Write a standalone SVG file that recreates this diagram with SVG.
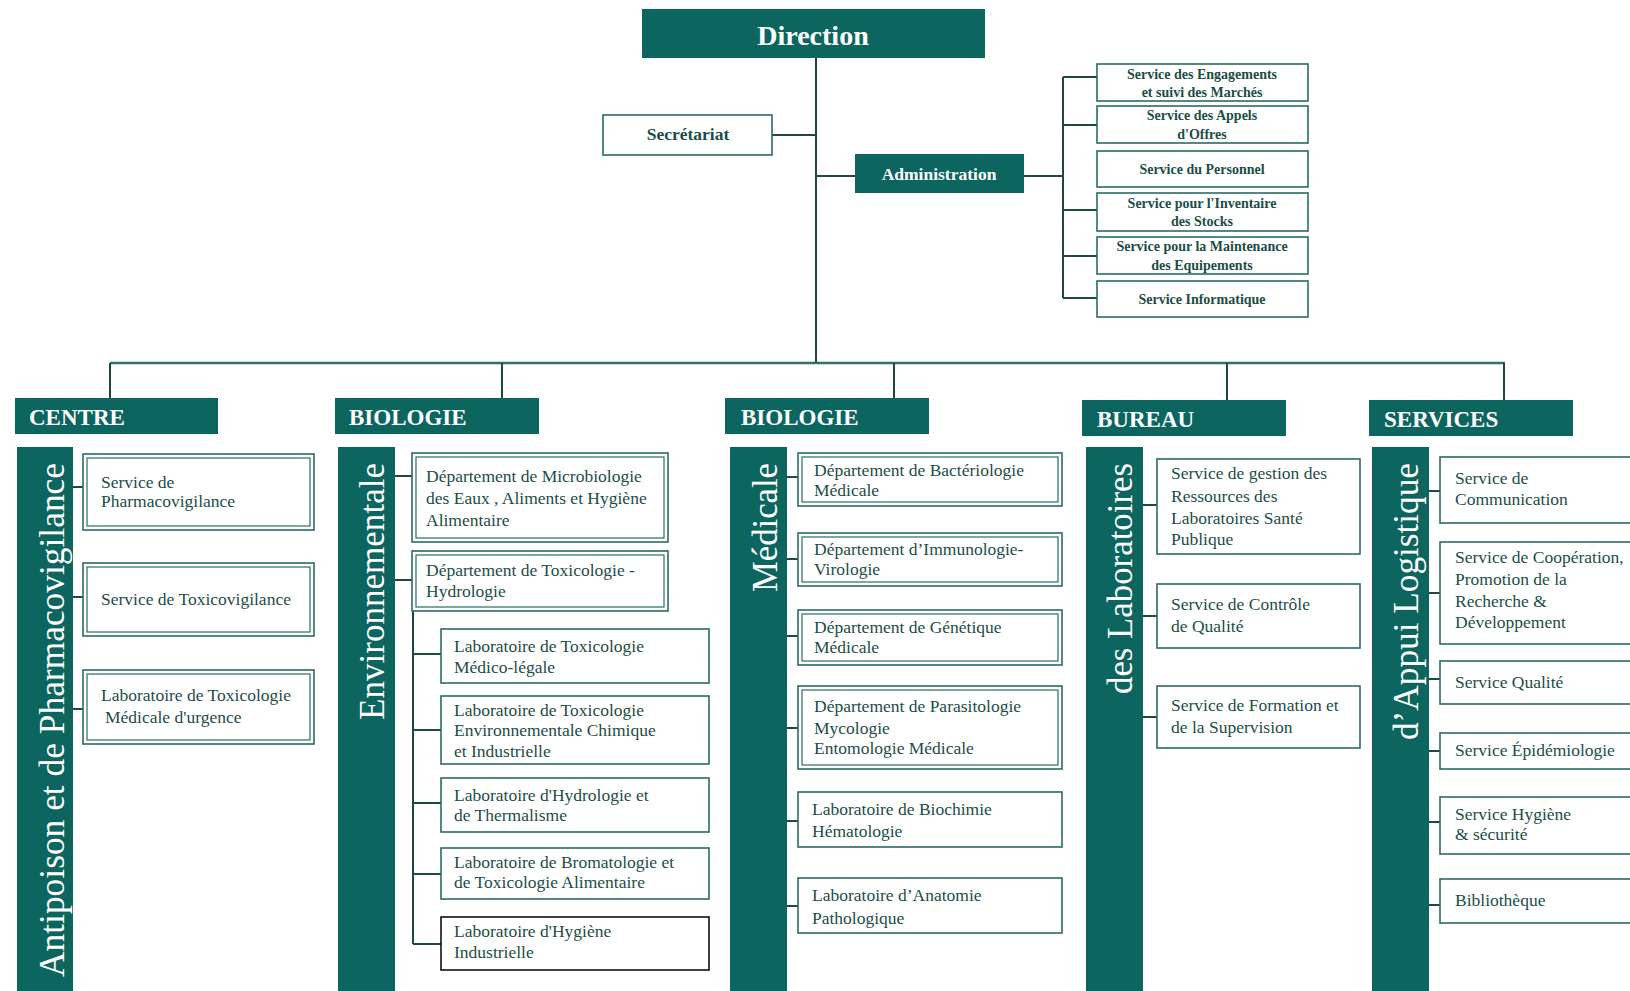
<svg xmlns="http://www.w3.org/2000/svg" width="1630" height="991" viewBox="0 0 1630 991">
<style>
.fill{fill:#0d655f}
.hdr{font-family:"Liberation Serif",serif;font-weight:bold;fill:#ffffff}
.bar{font-family:"Liberation Serif",serif;fill:#ffffff;font-size:35px;text-anchor:end}
.box{fill:#ffffff;stroke:#2c6b65;stroke-width:1.6}
.inner{fill:none;stroke:#2c6b65;stroke-width:1.2}
.blk{fill:#ffffff;stroke:#111;stroke-width:1.6}
.t{font-family:"Liberation Serif",serif;font-size:17.5px;fill:#1b4d48}
.ta{font-family:"Liberation Serif",serif;font-size:14px;font-weight:bold;fill:#1b4d48;text-anchor:middle}
.ln{stroke:#1f4744;stroke-width:2;fill:none}
.hl{stroke:#2e716b;stroke-width:2.5;fill:none}
</style>
<rect width="1630" height="991" fill="#ffffff"/>

<g id="connectors">
<path class="ln" d="M816 58 V363 M772 135 H816 M816 176 H855"/>
<path class="hl" d="M110 363 H1505"/>
<path class="ln" d="M110 363 V398 M502 363 V398 M894 363 V398 M1227 363 V400 M1504 363 V400"/>
<path class="ln" d="M1024 176 H1063 M1063 77 V298 M1063 77 H1097 M1063 125 H1097 M1063 210 H1097 M1063 256 H1097 M1063 298 H1097"/>
<path class="ln" d="M73 487 H83 M73 597 H83 M73 709 H83"/>
<path class="ln" d="M395 476 H412 M395 580 H412 M413 611 V944 M413 654 H441 M413 730 H441 M413 803 H441 M413 874 H441 M413 944 H441"/>
<path class="ln" d="M787 477 H798 M787 559 H798 M787 636 H798 M787 728 H798 M787 821 H798 M787 906 H798"/>
<path class="ln" d="M1143 505 H1157 M1143 616 H1157 M1143 717 H1157"/>
<path class="ln" d="M1429 491 H1440 M1429 593 H1440 M1429 679 H1440 M1429 751 H1440 M1429 822 H1440 M1429 905 H1440"/>
</g>

<g id="direction">
<rect class="fill" x="642" y="9" width="343" height="49"/>
<text class="hdr" x="813" y="45" font-size="28" text-anchor="middle">Direction</text>
</g>
<g id="secretariat">
<rect class="box" x="603" y="115" width="169" height="40"/>
<text class="t" x="688" y="140" font-size="18" font-weight="bold" text-anchor="middle">Secrétariat</text>
</g>
<g id="administration">
<rect class="fill" x="855" y="154" width="169" height="39"/>
<text class="hdr" x="939" y="180" font-size="17.5" text-anchor="middle">Administration</text>
</g>

<g id="adm1"><rect class="box" x="1097" y="64" width="211" height="37"/>
<text class="ta" x="1202" y="79">Service des Engagements</text><text class="ta" x="1202" y="97">et suivi des Marchés</text></g>
<g id="adm2"><rect class="box" x="1097" y="106" width="211" height="37"/>
<text class="ta" x="1202" y="120">Service des Appels</text><text class="ta" x="1202" y="139">d'Offres</text></g>
<g id="adm3"><rect class="box" x="1097" y="151" width="211" height="36"/>
<text class="ta" x="1202" y="174">Service du Personnel</text></g>
<g id="adm4"><rect class="box" x="1097" y="193" width="211" height="38"/>
<text class="ta" x="1202" y="208">Service pour l'Inventaire</text><text class="ta" x="1202" y="226">des Stocks</text></g>
<g id="adm5"><rect class="box" x="1097" y="237" width="211" height="37"/>
<text class="ta" x="1202" y="251">Service pour la Maintenance</text><text class="ta" x="1202" y="270">des Equipements</text></g>
<g id="adm6"><rect class="box" x="1097" y="281" width="211" height="36"/>
<text class="ta" x="1202" y="304">Service Informatique</text></g>

<!-- CENTRE -->
<g id="centre">
<rect class="fill" x="15" y="398" width="203" height="36"/>
<text class="hdr" x="29" y="425" font-size="23">CENTRE</text>
<rect class="fill" x="17" y="447" width="56" height="544"/>
<text class="bar" x="64" y="463" transform="rotate(-90 64 463)" textLength="514" lengthAdjust="spacingAndGlyphs">Antipoison et de Pharmacovigilance</text>
</g>
<g id="c1"><rect class="box" x="83" y="454" width="231" height="76"/><rect class="inner" x="87" y="458" width="223" height="68"/>
<text class="t" x="101" y="488">Service de</text><text class="t" x="101" y="507">Pharmacovigilance</text></g>
<g id="c2"><rect class="box" x="83" y="563" width="231" height="73"/><rect class="inner" x="87" y="567" width="223" height="65"/>
<text class="t" x="101" y="605">Service de Toxicovigilance</text></g>
<g id="c3"><rect class="box" x="83" y="670" width="231" height="74"/><rect class="inner" x="87" y="674" width="223" height="66"/>
<text class="t" x="101" y="701">Laboratoire de Toxicologie</text><text class="t" x="105" y="723">Médicale d'urgence</text></g>

<!-- BIOLOGIE Environnementale -->
<g id="bioenv">
<rect class="fill" x="335" y="398" width="204" height="36"/>
<text class="hdr" x="349" y="425" font-size="23">BIOLOGIE</text>
<rect class="fill" x="338" y="447" width="57" height="544"/>
<text class="bar" x="384" y="463" transform="rotate(-90 384 463)" textLength="257" lengthAdjust="spacingAndGlyphs">Environnementale</text>
</g>
<g id="e1"><rect class="box" x="412" y="453" width="256" height="89"/><rect class="inner" x="416" y="457" width="248" height="81"/>
<text class="t" x="426" y="482">Département de Microbiologie</text><text class="t" x="426" y="504">des Eaux , Aliments et Hygiène</text><text class="t" x="426" y="526">Alimentaire</text></g>
<g id="e2"><rect class="box" x="412" y="551" width="256" height="60"/><rect class="inner" x="416" y="555" width="248" height="52"/>
<text class="t" x="426" y="576">Département de Toxicologie -</text><text class="t" x="426" y="597">Hydrologie</text></g>
<g id="e3"><rect class="box" x="441" y="629" width="268" height="54"/>
<text class="t" x="454" y="652">Laboratoire de Toxicologie</text><text class="t" x="454" y="673">Médico-légale</text></g>
<g id="e4"><rect class="box" x="441" y="696" width="268" height="68"/>
<text class="t" x="454" y="716">Laboratoire de Toxicologie</text><text class="t" x="454" y="736">Environnementale Chimique</text><text class="t" x="454" y="757">et Industrielle</text></g>
<g id="e5"><rect class="box" x="441" y="778" width="268" height="54"/>
<text class="t" x="454" y="801">Laboratoire d'Hydrologie et</text><text class="t" x="454" y="821">de Thermalisme</text></g>
<g id="e6"><rect class="box" x="441" y="848" width="268" height="51"/>
<text class="t" x="454" y="868">Laboratoire de Bromatologie et</text><text class="t" x="454" y="888">de Toxicologie Alimentaire</text></g>
<g id="e7"><rect class="blk" x="441" y="917" width="268" height="53"/>
<text class="t" x="454" y="937">Laboratoire d'Hygiène</text><text class="t" x="454" y="958">Industrielle</text></g>

<!-- BIOLOGIE Médicale -->
<g id="biomed">
<rect class="fill" x="725" y="398" width="204" height="36"/>
<text class="hdr" x="741" y="425" font-size="23">BIOLOGIE</text>
<rect class="fill" x="730" y="447" width="57" height="544"/>
<text class="bar" x="777" y="463" transform="rotate(-90 777 463)" textLength="129" lengthAdjust="spacingAndGlyphs">Médicale</text>
</g>
<g id="m1"><rect class="box" x="798" y="453" width="264" height="53"/><rect class="inner" x="802" y="457" width="256" height="45"/>
<text class="t" x="814" y="476">Département de Bactériologie</text><text class="t" x="814" y="496">Médicale</text></g>
<g id="m2"><rect class="box" x="798" y="533" width="264" height="53"/><rect class="inner" x="802" y="537" width="256" height="45"/>
<text class="t" x="814" y="555">Département d’Immunologie-</text><text class="t" x="814" y="575">Virologie</text></g>
<g id="m3"><rect class="box" x="798" y="610" width="264" height="55"/><rect class="inner" x="802" y="614" width="256" height="47"/>
<text class="t" x="814" y="633">Département de Génétique</text><text class="t" x="814" y="653">Médicale</text></g>
<g id="m4"><rect class="box" x="798" y="686" width="264" height="83"/><rect class="inner" x="802" y="690" width="256" height="75"/>
<text class="t" x="814" y="712">Département de Parasitologie</text><text class="t" x="814" y="734">Mycologie</text><text class="t" x="814" y="754">Entomologie Médicale</text></g>
<g id="m5"><rect class="box" x="798" y="792" width="264" height="55"/>
<text class="t" x="812" y="815">Laboratoire de Biochimie</text><text class="t" x="812" y="837">Hématologie</text></g>
<g id="m6"><rect class="box" x="798" y="878" width="264" height="55"/>
<text class="t" x="812" y="901">Laboratoire d’Anatomie</text><text class="t" x="812" y="924">Pathologique</text></g>

<!-- BUREAU -->
<g id="bureau">
<rect class="fill" x="1082" y="400" width="204" height="36"/>
<text class="hdr" x="1097" y="427" font-size="23">BUREAU</text>
<rect class="fill" x="1086" y="447" width="57" height="544"/>
<text class="bar" x="1132" y="463" transform="rotate(-90 1132 463)" textLength="231" lengthAdjust="spacingAndGlyphs">des Laboratoires</text>
</g>
<g id="b1"><rect class="box" x="1157" y="459" width="203" height="95"/>
<text class="t" x="1171" y="479">Service de gestion des</text><text class="t" x="1171" y="502">Ressources des</text><text class="t" x="1171" y="524">Laboratoires Santé</text><text class="t" x="1171" y="545">Publique</text></g>
<g id="b2"><rect class="box" x="1157" y="584" width="203" height="64"/>
<text class="t" x="1171" y="610">Service de Contrôle</text><text class="t" x="1171" y="632">de Qualité</text></g>
<g id="b3"><rect class="box" x="1157" y="686" width="203" height="62"/>
<text class="t" x="1171" y="711">Service de Formation et</text><text class="t" x="1171" y="733">de la Supervision</text></g>

<!-- SERVICES -->
<g id="services">
<rect class="fill" x="1369" y="400" width="204" height="36"/>
<text class="hdr" x="1384" y="427" font-size="23">SERVICES</text>
<rect class="fill" x="1372" y="447" width="57" height="544"/>
<text class="bar" x="1418" y="463" transform="rotate(-90 1418 463)" textLength="277" lengthAdjust="spacingAndGlyphs">d’Appui Logistique</text>
</g>
<g id="s1"><rect class="box" x="1440" y="457" width="200" height="66"/>
<text class="t" x="1455" y="484">Service de</text><text class="t" x="1455" y="505">Communication</text></g>
<g id="s2"><rect class="box" x="1440" y="542" width="200" height="102"/>
<text class="t" x="1455" y="563">Service de Coopération,</text><text class="t" x="1455" y="585">Promotion de la</text><text class="t" x="1455" y="607">Recherche &amp;</text><text class="t" x="1455" y="628">Développement</text></g>
<g id="s3"><rect class="box" x="1440" y="661" width="200" height="43"/>
<text class="t" x="1455" y="688">Service Qualité</text></g>
<g id="s4"><rect class="box" x="1440" y="733" width="200" height="36"/>
<text class="t" x="1455" y="756">Service Épidémiologie</text></g>
<g id="s5"><rect class="box" x="1440" y="797" width="200" height="57"/>
<text class="t" x="1455" y="820">Service Hygiène</text><text class="t" x="1455" y="840">&amp; sécurité</text></g>
<g id="s6"><rect class="box" x="1440" y="879" width="200" height="44"/>
<text class="t" x="1455" y="906">Bibliothèque</text></g>
</svg>
